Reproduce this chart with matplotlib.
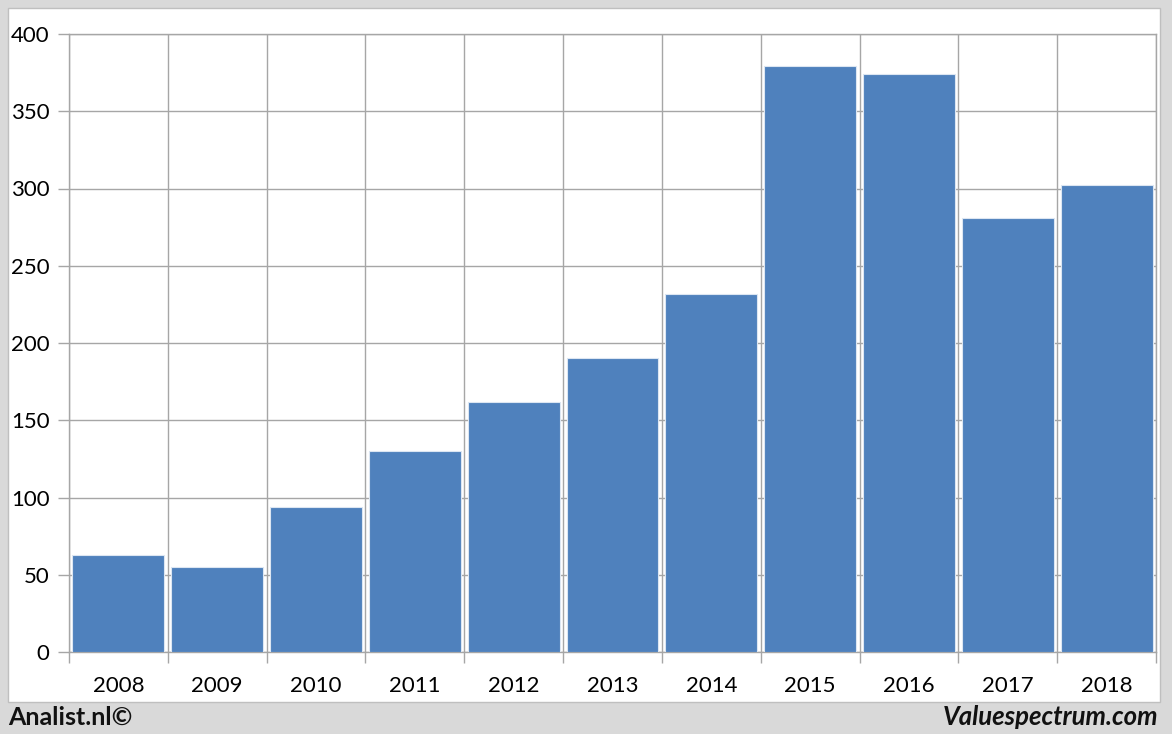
import numpy as np
import matplotlib.pyplot as plt
from matplotlib.patches import Rectangle

years = ['2008', '2009', '2010', '2011', '2012', '2013', '2014', '2015', '2016', '2017', '2018']
values = [63, 55, 94, 130, 162, 190, 232, 379, 374, 281, 302]
yticks = [0, 50, 100, 150, 200, 250, 300, 350, 400]

W, H = 1172, 734
plt.rcParams['font.family'] = ['Lato', 'DejaVu Sans']

fig = plt.figure(figsize=(W / 100, H / 100), dpi=100)
fig.patch.set_facecolor('#d9d9d9')

# white panel behind the chart
fig.patches.append(Rectangle((8 / W, (H - 702) / H), (1160 - 8) / W, (702 - 8) / H,
                             transform=fig.transFigure, facecolor='white',
                             edgecolor='#bfbfbf', linewidth=1, zorder=-1))

ax = fig.add_axes([69 / W, (H - 652) / H, (1156 - 69) / W, (652 - 34) / H])
ax.set_zorder(2)
ax.set_facecolor('none')

x = np.arange(len(years))
ax.bar(x, values, width=0.93, color='#4f81bd', edgecolor='#dce6f2', linewidth=0.8, zorder=3)

ax.set_xlim(-0.5, len(years) - 0.5)
ax.set_ylim(0, 400)
ax.set_yticks(yticks)
ax.set_xticks(x)
ax.set_xticklabels(years)
ax.set_xticks(np.arange(-0.5, len(years)), minor=True)

grid_col = '#a6a6a6'
ax.grid(True, axis='y', which='major', color=grid_col, linewidth=1, zorder=1)
ax.grid(True, axis='x', which='minor', color=grid_col, linewidth=1, zorder=1)
ax.tick_params(axis='x', which='major', length=0, pad=17, labelsize=16)
ax.tick_params(axis='x', which='minor', length=8, color=grid_col, width=1)
ax.tick_params(axis='y', length=8, color=grid_col, width=1, pad=6, labelsize=16)
for s in ax.spines.values():
    s.set_color(grid_col)
    s.set_linewidth(1)

fig.text(8 / W, (H - 717) / H, 'Analist.nl©', fontsize=18, fontweight='bold',
         ha='left', va='center', color='#111111')
fig.text(1158 / W, (H - 717) / H, 'Valuespectrum.com', fontsize=18.5, fontweight='bold',
         fontstyle='italic', ha='right', va='center', color='#111111')

fig.savefig('out.png', dpi=100, facecolor=fig.get_facecolor())
